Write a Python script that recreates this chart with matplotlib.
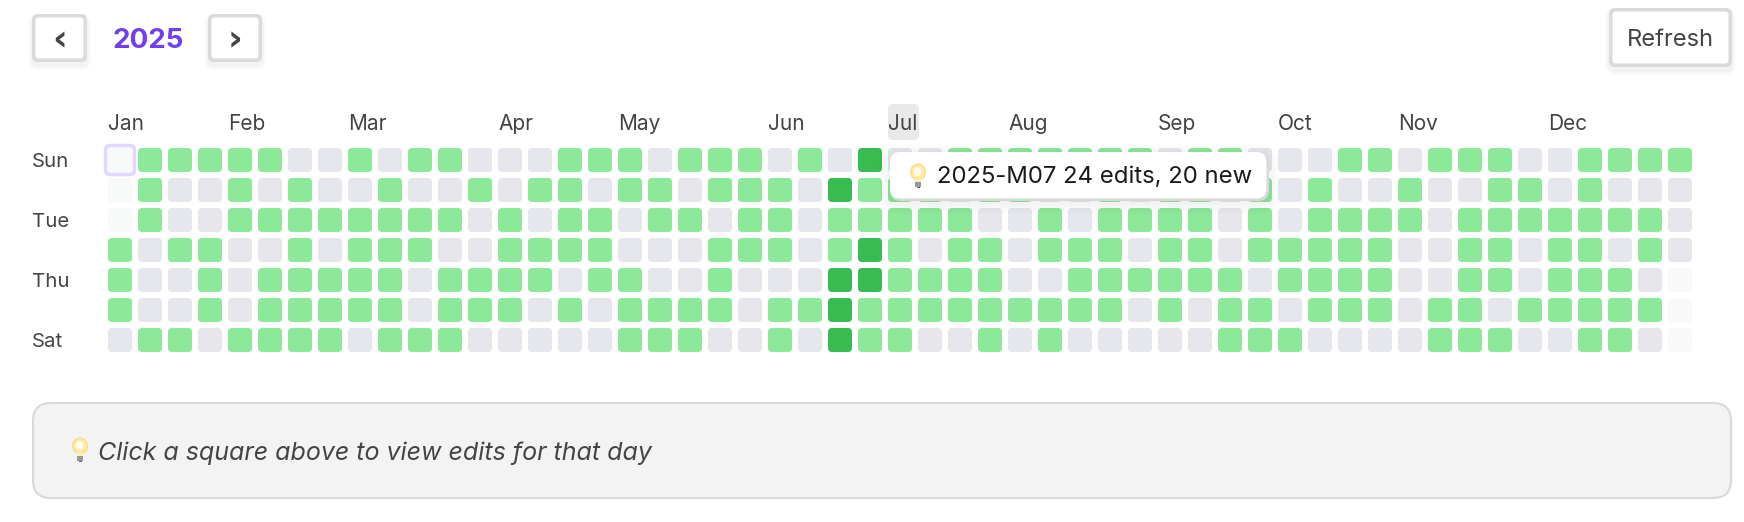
"""
Activity calendar for 2025, drawn on one pixel-sized axes.
"""
import matplotlib
matplotlib.use('Agg')
import matplotlib.pyplot as plt
from matplotlib.patches import FancyBboxPatch, Ellipse, Rectangle

plt.rcParams['font.family'] = ['Inter', 'DejaVu Sans']

# 0 = outside the year, 1 = no edits, 2 = some edits, 3 = many edits
sun = [0,2,2,2,2,2,1,1,2,1,2,2,1,1, 1,2,2,2,1,2,2,2,1,2,1,3, 1,1,2,2,2,2,2,2,2,1,2,2, 1,1,1,2,2,1,2,2,2,1, 1,2,2,2,2]
# columns 26-37 of Mon sit under the tooltip, so those are guesses
mon = [0,2,1,1,2,1,2,1,1,2,1,1,2,1, 2,2,1,2,2,1,2,2,2,1,3,2, 2,2,1,2,2,1,1,2,1,2,2,1, 2,1,2,1,1,2,1,1,2,2, 1,2,1,1,1]
tue = [0,2,1,1,2,2,2,2,2,2,2,2,1,2, 1,2,2,1,2,2,1,2,2,1,2,2, 2,2,2,1,1,2,1,2,2,2,2,1, 2,1,2,2,2,2,1,2,2,2, 2,2,2,2,1]
wed = [2,1,2,2,1,1,2,1,2,2,2,1,1,2, 2,2,2,1,1,1,2,2,2,1,2,3, 2,1,2,2,1,2,2,2,1,2,2,1, 2,2,2,2,2,1,1,2,2,1, 2,2,1,2,1]
thu = [2,1,1,2,1,2,2,2,2,2,1,2,2,2, 2,1,2,2,1,1,2,1,1,1,3,3, 2,2,2,2,1,1,2,2,2,2,2,2, 1,2,2,2,2,1,1,2,2,1, 2,2,2,1,0]
fri = [2,1,1,2,1,2,2,2,2,2,1,2,2,2, 1,2,1,2,2,2,2,1,2,2,3,2, 2,2,2,2,2,2,2,2,1,2,1,2, 2,1,2,2,2,1,2,2,1,2, 2,2,2,2,0]
sat = [1,2,2,1,2,2,2,2,1,2,2,2,1,1, 1,1,1,2,2,2,1,1,2,1,3,2, 2,1,1,2,1,2,1,1,1,1,1,2, 2,2,1,1,1,1,2,2,2,1, 1,2,2,1,0]
weeks_by_day = [sun, mon, tue, wed, thu, fri, sat]

months = ['Jan', 'Feb', 'Mar', 'Apr', 'May', 'Jun', 'Jul', 'Aug', 'Sep', 'Oct', 'Nov', 'Dec']
month_cols = [0, 4, 8, 13, 17, 22, 26, 30, 35, 39, 43, 48]
day_labels = ['Sun', 'Tue', 'Thu', 'Sat']
day_rows = [0, 2, 4, 6]

LEVEL_COLOURS = {0: '#f8f9f9', 1: '#e6e7ec', 2: '#8ce99a', 3: '#38bc52'}
TEXT = '#444444'


def rbox(ax, x0, y0, x1, y1, r, fc, ec='none', lw=0, alpha=None, z=2):
    p = FancyBboxPatch((x0 + r, y0 + r), x1 - x0 - 2 * r, y1 - y0 - 2 * r,
                       boxstyle=f'round,pad={r},rounding_size={r}',
                       fc=fc, ec=ec, lw=lw, alpha=alpha, zorder=z)
    ax.add_patch(p)
    return p


def shadow(ax, x0, y0, x1, y1, r, dy=3, spread=8, strength=0.012, z=1.5):
    # stack of faint boxes, rough stand-in for a css box-shadow
    for s in range(spread, 0, -1):
        rbox(ax, x0 - s, y0 - s + dy, x1 + s, y1 + s + dy, r + s, '#000000',
             alpha=strength, z=z)


def bulb(ax, cx, cy, z=8):
    # no emoji font here, so the light bulb is built from patches
    ax.add_patch(Ellipse((cx, cy - 4), 15, 16, fc='#fdeaa0', ec='#f3dc8e', lw=0.8, zorder=z))
    ax.add_patch(Ellipse((cx - 0.5, cy - 4.5), 8, 9, fc='#fffbe8', ec='none', zorder=z))
    ax.add_patch(Rectangle((cx - 3, cy + 3), 6, 3, fc='#fbeeb8', ec='none', zorder=z))
    ax.add_patch(Rectangle((cx - 3, cy + 6), 6, 4.5, fc='#9a9a9a', ec='none', zorder=z))
    ax.add_patch(Rectangle((cx - 1.5, cy + 10.5), 3, 1.5, fc='#666666', ec='none', zorder=z))


def button(ax, x0, y0, x1, y1):
    shadow(ax, x0, y0, x1, y1, 6, dy=4, spread=4, strength=0.012)
    rbox(ax, x0, y0, x1, y1, 6, '#dadada')
    rbox(ax, x0 + 3.5, y0 + 3.5, x1 - 3.5, y1 - 3.5, 3.5, '#ffffff')


fig = plt.figure(figsize=(17.44, 5.22), dpi=100, facecolor='white')
ax = fig.add_axes([0, 0, 1, 1])
ax.set_xlim(0, 1744)
ax.set_ylim(522, 0)
ax.axis('off')

X0, Y0, STEP, CELL = 108, 148, 30, 24

# header controls
button(ax, 32, 14, 87, 62)
button(ax, 208, 14, 262, 62)
ax.text(60, 40, '‹', ha='center', va='center', fontsize=26, fontweight='bold',
        color=TEXT, family=['DejaVu Sans'])
ax.text(235, 40, '›', ha='center', va='center', fontsize=26, fontweight='bold',
        color=TEXT, family=['DejaVu Sans'])
ax.text(148, 40.5, '2025', ha='center', va='center', fontsize=20, fontweight='bold',
        color='#7040f0')
button(ax, 1609, 8, 1732, 67)
ax.text(1670.5, 40.5, 'Refresh', ha='center', va='center', fontsize=17, color=TEXT)

# month and day labels
rbox(ax, 888, 104, 919, 140, 5, '#e9e9e9')
for name, col in zip(months, month_cols):
    ax.text(X0 + col * STEP, 124, name, ha='left', va='center', fontsize=15, color=TEXT, zorder=3)
for name, row in zip(day_labels, day_rows):
    ax.text(32, Y0 + row * STEP + CELL / 2 + 2, name, ha='left', va='center', fontsize=14.7, color=TEXT)

# calendar cells
for row, week in enumerate(weeks_by_day):
    for col, level in enumerate(week):
        x, y = X0 + col * STEP, Y0 + row * STEP
        rbox(ax, x, y, x + CELL, y + CELL, 4, LEVEL_COLOURS[level])

# selected day outline
rbox(ax, X0 - 2.5, Y0 - 2.5, X0 + CELL + 2.5, Y0 + CELL + 2.5, 5, 'none',
     ec='#e1d8fb', lw=2.6, z=4)

# tooltip
shadow(ax, 890, 152, 1268, 200, 10, dy=3, spread=12, strength=0.005, z=5)
rbox(ax, 890, 152, 1269, 201, 11, '#d8d8d8', z=6)
rbox(ax, 890, 152, 1266.5, 198.5, 10, '#ffffff', z=7)
bulb(ax, 918, 176)
ax.text(937, 177, '2025-M07 24 edits, 20 new', ha='left', va='center', fontsize=17.2,
        color='#1a1a1a', zorder=8)

# hint panel
rbox(ax, 33, 403, 1731, 498, 18, '#f3f3f3', ec='#d9d9d9', lw=1.5)
bulb(ax, 80, 450)
ax.text(98, 453, 'Click a square above to view edits for that day', ha='left', va='center',
        fontsize=18, style='italic', color=TEXT, zorder=8)

fig.savefig('out.png', dpi=100)
plt.close(fig)
